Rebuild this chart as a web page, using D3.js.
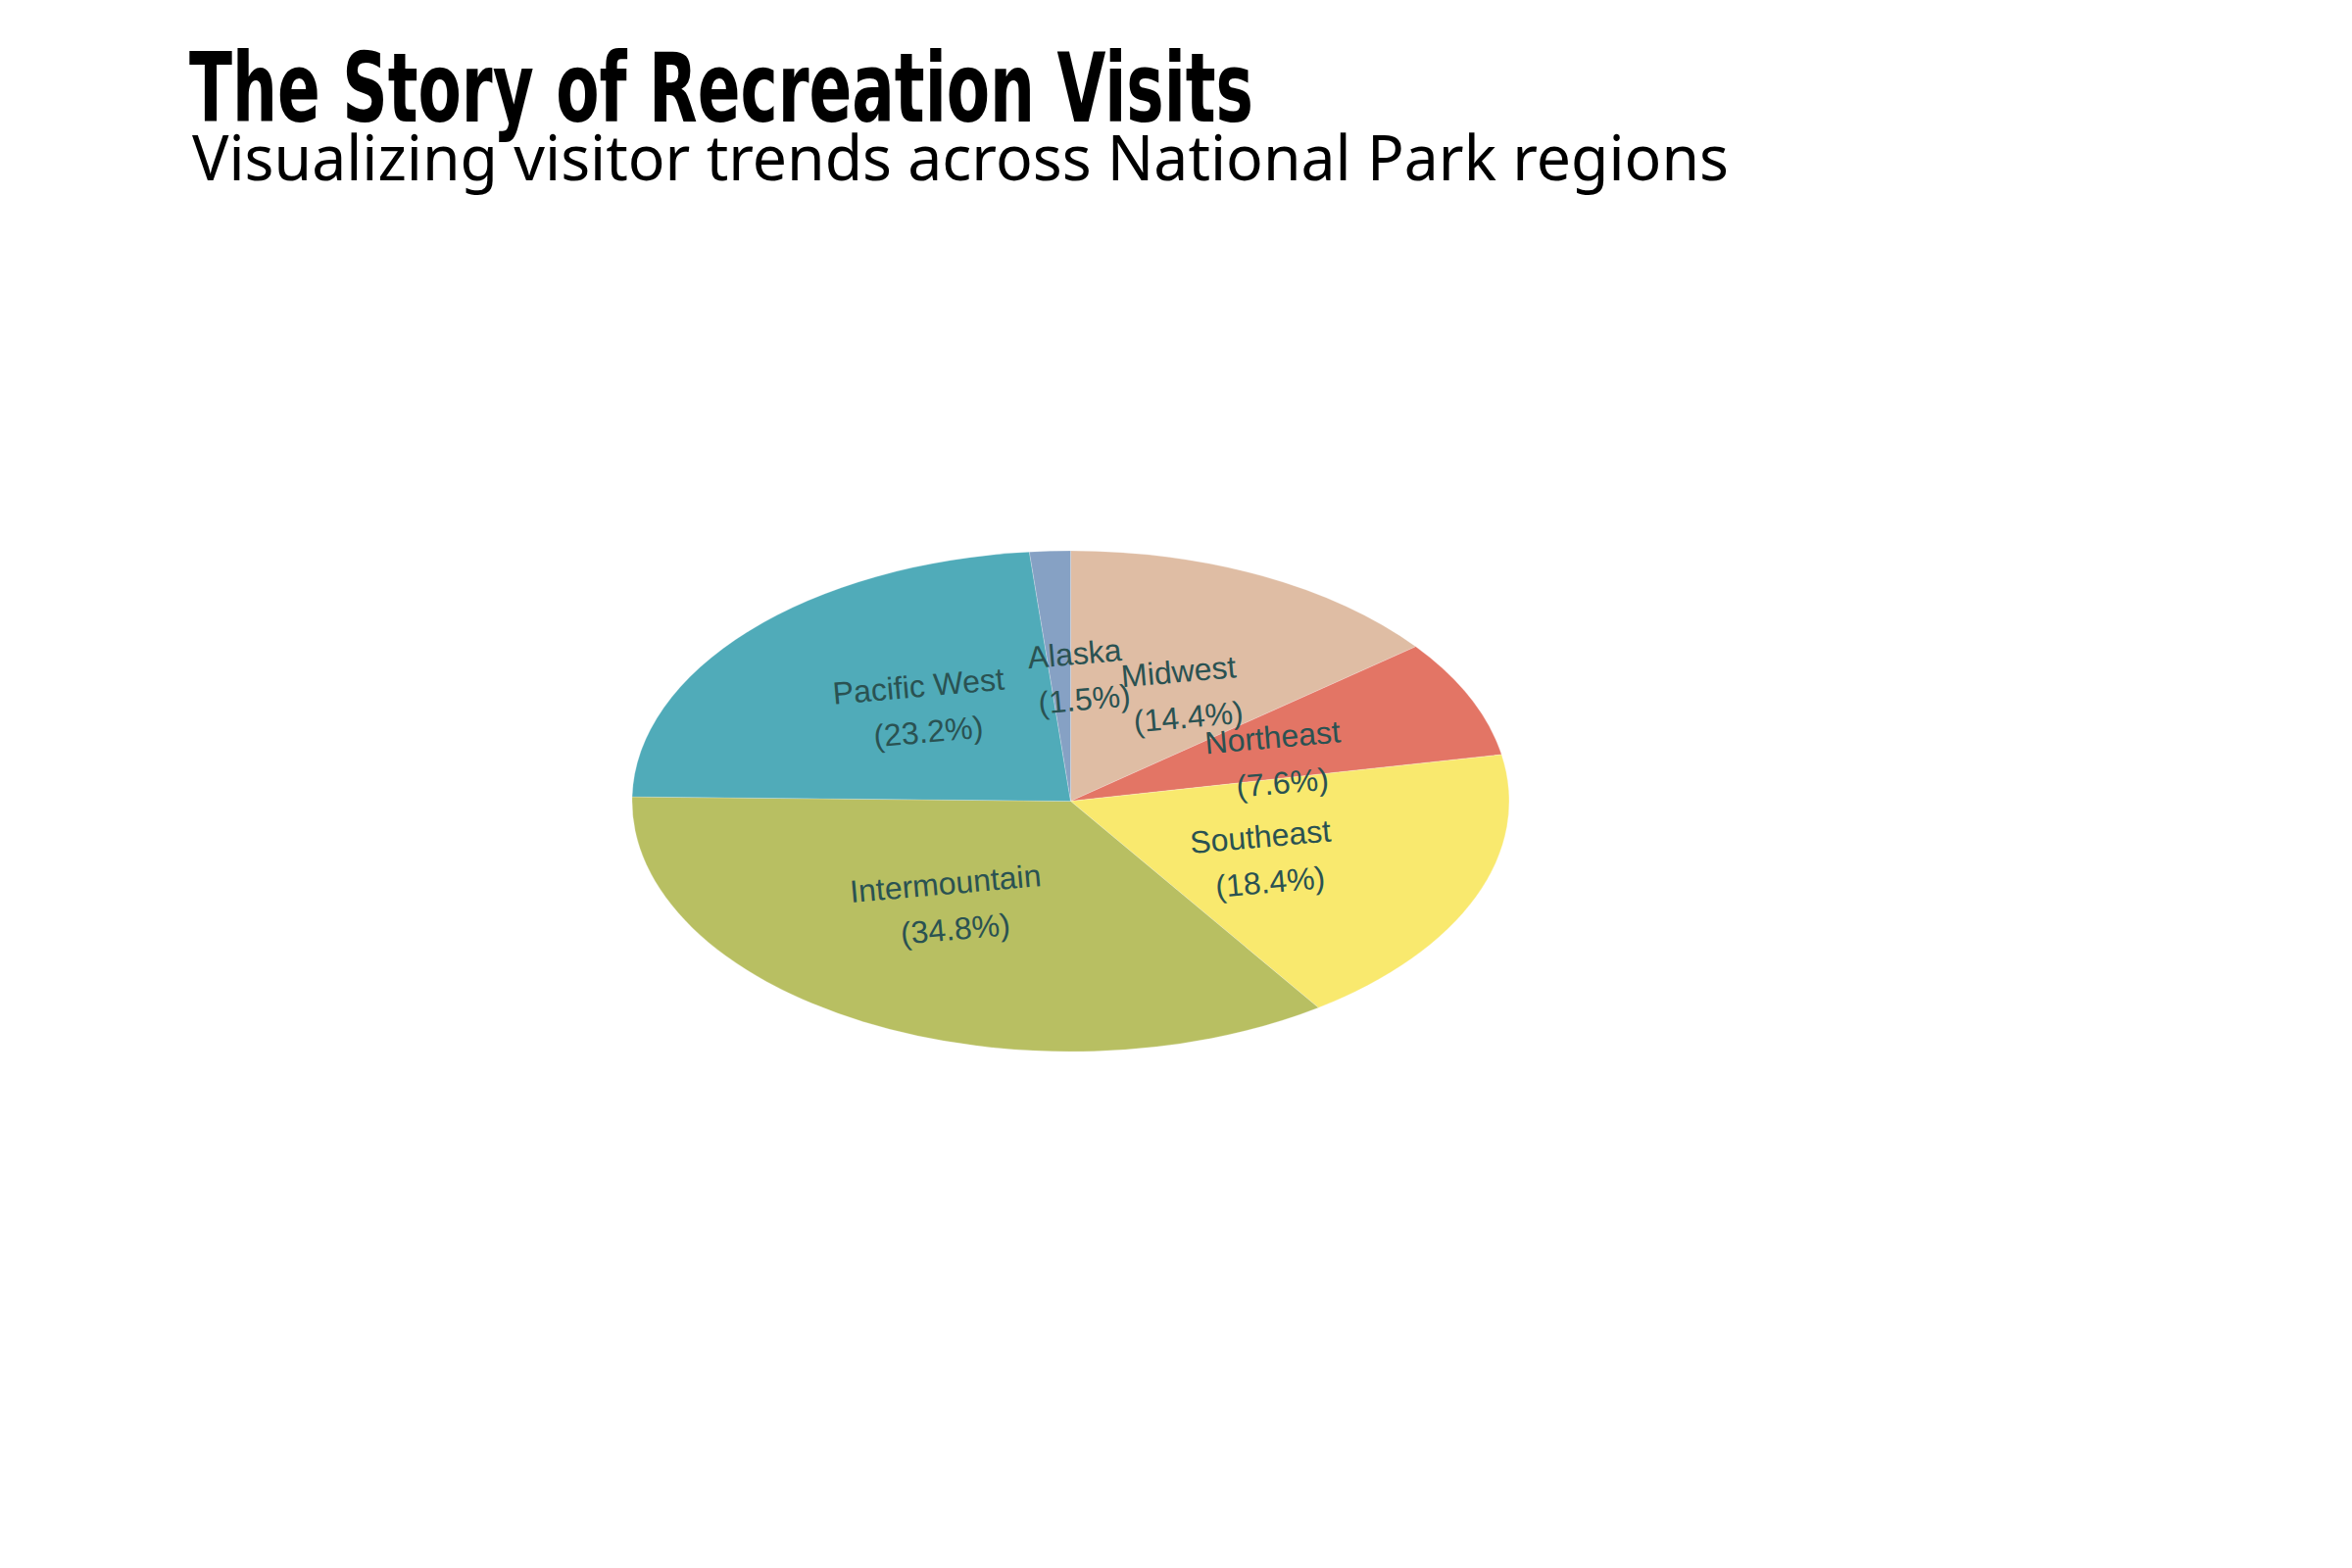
<!DOCTYPE html>
<html>
<head>
<meta charset="utf-8">
<script src="https://cdn.jsdelivr.net/npm/d3@7"></script>
<style>
  html, body { margin: 0; padding: 0; background: #ffffff; }
  svg { display: block; }
</style>
</head>
<body>
<svg id="chart" width="2400" height="1600"></svg>
<script>
// ---- data ----
const regions = ["Midwest", "Northeast", "Southeast", "Intermountain", "Pacific West", "Alaska"];
const shares  = [14.4, 7.6, 18.4, 34.8, 23.2, 1.5];
const colors  = ["#dfbda4", "#e37565", "#f9e96e", "#b8bf62", "#50abb9", "#86a1c4"];
const titleText = "The Story of Recreation Visits";
const subtitleText = "Visualizing visitor trends across National Park regions";

// ---- layout ----
const W = 2400, H = 1600;
const cx = 1092.5, cy = 817.5;
const R = 447.5;
const squash = 255.5 / 447.5;
const labelTilt = -5;          // degrees
const labelAngleShift = 5 * Math.PI / 180;

const svg = d3.select("#chart");

// title
svg.append("text")
  .attr("x", 193).attr("y", 124)
  .attr("font-family", "'Liberation Sans Narrow', 'DejaVu Sans Condensed', sans-serif")
  .attr("font-weight", "bold")
  .attr("font-size", 98)
  .attr("textLength", 1086)
  .attr("lengthAdjust", "spacingAndGlyphs")
  .attr("fill", "#000")
  .text(titleText);

svg.append("text")
  .attr("x", 196).attr("y", 184)
  .attr("font-family", "'Noto Sans', 'Open Sans', sans-serif")
  .attr("font-size", 64)
  .attr("textLength", 1568)
  .attr("lengthAdjust", "spacingAndGlyphs")
  .attr("fill", "#000")
  .text(subtitleText);

const data = regions.map((r, i) => ({ region: r, value: shares[i], color: colors[i] }));

const pie = d3.pie().sort(null).value(d => d.value).startAngle(0).endAngle(2 * Math.PI);
const arcs = pie(data);
const arc = d3.arc().innerRadius(0).outerRadius(R);

const pieG = svg.append("g")
  .attr("transform", `translate(${cx},${cy}) scale(1,${squash})`);

pieG.selectAll("path")
  .data(arcs)
  .join("path")
  .attr("d", arc)
  .attr("fill", d => d.data.color)
  .attr("stroke", "rgba(255,255,255,0.35)")
  .attr("stroke-width", 0.8);

// labels
const labelG = svg.append("g").attr("transform", `translate(${cx},${cy})`);
const lab = labelG.selectAll("g.lab")
  .data(arcs)
  .join("g")
  .attr("class", "lab")
  .attr("transform", d => {
    const a = (d.startAngle + d.endAngle) / 2 + labelAngleShift;
    const r = R * 0.5;
    const x = r * Math.sin(a);
    const y = -r * Math.cos(a) * squash;
    return `translate(${x},${y}) rotate(${labelTilt})`;
  });

lab.append("text")
  .attr("x", -3).attr("y", -12)
  .attr("text-anchor", "middle")
  .attr("font-family", "'Liberation Sans', Arial, sans-serif")
  .attr("font-size", 32)
  .attr("fill", "#2a5252")
  .text(d => d.data.region);

lab.append("text")
  .attr("x", 3).attr("y", 35)
  .attr("text-anchor", "middle")
  .attr("font-family", "'Liberation Sans', Arial, sans-serif")
  .attr("font-size", 32)
  .attr("fill", "#2a5252")
  .text(d => `(${d.data.value.toFixed(1)}%)`);
</script>
</body>
</html>
